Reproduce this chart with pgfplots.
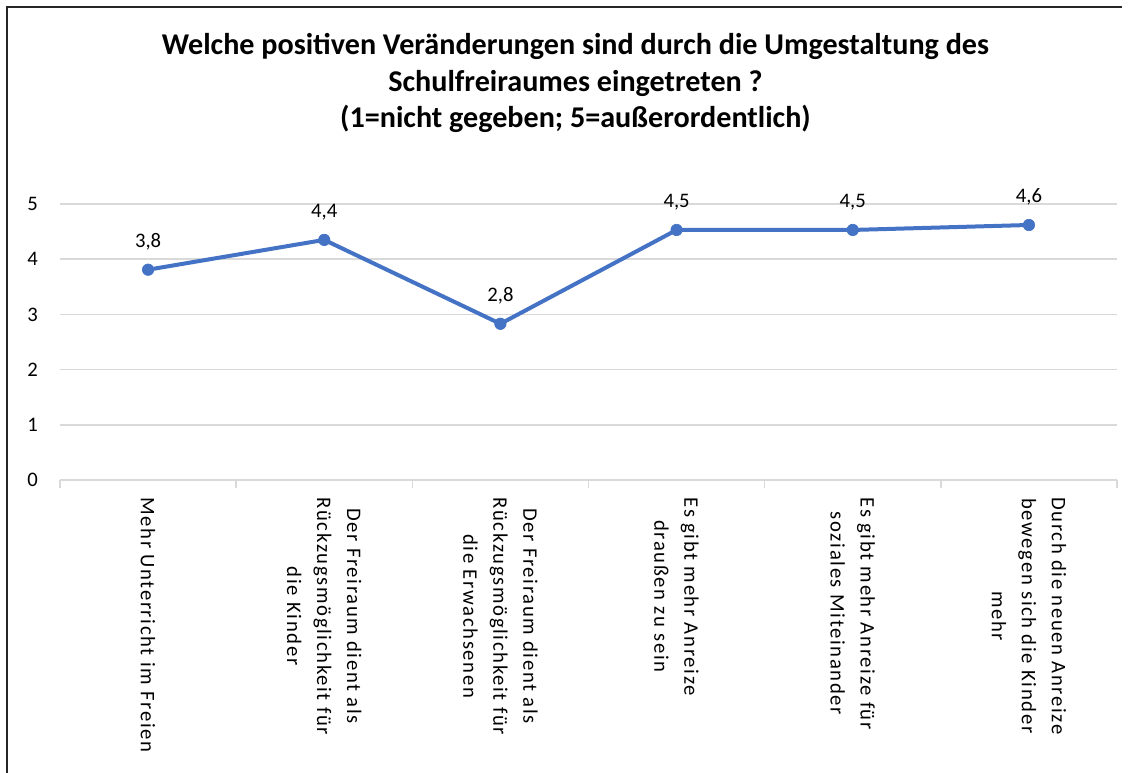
\documentclass[border=0pt]{standalone}
\usepackage{pgfplots}
\pgfplotsset{compat=1.18}
\usepackage{fontspec}
\setmainfont{Carlito}
\newfontfamily\labelfont{Carlito}[LetterSpace=8]
\definecolor{lineblue}{HTML}{4472C4}
\definecolor{gridgray}{HTML}{D9D9D9}
\begin{document}
\begin{tikzpicture}
\useasboundingbox (-45pt,-219pt) rectangle (806.25pt,360pt);
\draw[line width=1.3pt, black!85] (-39.75pt,-230pt) -- (-39.75pt,354.75pt) -- (796.5pt,354.75pt);
\begin{axis}[
  at={(0,0)}, anchor=south west,
  scale only axis, width=792.75pt, height=207pt,
  xmin=-0.5, xmax=5.5, ymin=0, ymax=5,
  clip=false,
  ytick={0,1,2,3,4,5},
  xtick={0,1,2,3,4,5},
  xticklabels={
    {Mehr Unterricht im Freien},
    {Der Freiraum dient als\\Rückzugsmöglichkeit für\\die Kinder},
    {Der Freiraum dient als\\Rückzugsmöglichkeit für\\die Erwachsenen},
    {Es gibt mehr Anreize\\draußen zu sein},
    {Es gibt mehr Anreize für\\soziales Miteinander},
    {Durch die neuen Anreize\\bewegen sich die Kinder\\mehr}},
  minor xtick={-0.5,0.5,1.5,2.5,3.5,4.5,5.5},
  axis line style={draw=none},
  ymajorgrids,
  major grid style={gridgray, line width=1.1pt},
  xtick pos=bottom, ytick pos=left,
  major tick length=0pt,
  minor tick length=6pt,
  tick align=outside,
  minor tick style={gridgray, line width=1.1pt},
  major tick style={draw=none},
  /pgf/number format/assume math mode=true,
  yticklabel style={font=\fontsize{15.5}{18}\selectfont, xshift=-13pt},
  xticklabel style={font=\labelfont\fontsize{15.5}{22.5}\selectfont, rotate=-90, anchor=west, align=center, inner sep=0pt},
  xticklabel shift=12.75pt,
]
\addplot[lineblue, line width=3pt, mark=*, mark size=4.3pt,
  mark options={fill=lineblue, draw=lineblue, line width=0.5pt},
  nodes near coords, point meta=explicit symbolic,
  every node near coord/.append style={font=\fontsize{15.5}{18}\selectfont, anchor=base, yshift=16.5pt, inner sep=0pt, text=black}]
  coordinates {
  (0,3.81) [{3,8}]
  (1,4.35) [{4,4}]
  (2,2.83) [{2,8}]
  (3,4.53) [{4,5}]
  (4,4.53) [{4,5}]
  (5,4.62) [{4,6}]
  };
\end{axis}
\node[anchor=base, font=\fontsize{22.6}{27.75}\selectfont\bfseries] at (386.6pt,318.75pt) {Welche positiven Veränderungen sind durch die Umgestaltung des};
\node[anchor=base, font=\fontsize{22.6}{27.75}\selectfont\bfseries] at (386.6pt,291.4pt) {Schulfreiraumes eingetreten ?};
\node[anchor=base, font=\fontsize{22.6}{27.75}\selectfont\bfseries] at (386.6pt,264pt) {(1=nicht gegeben; 5=außerordentlich)};
\end{tikzpicture}
\end{document}
